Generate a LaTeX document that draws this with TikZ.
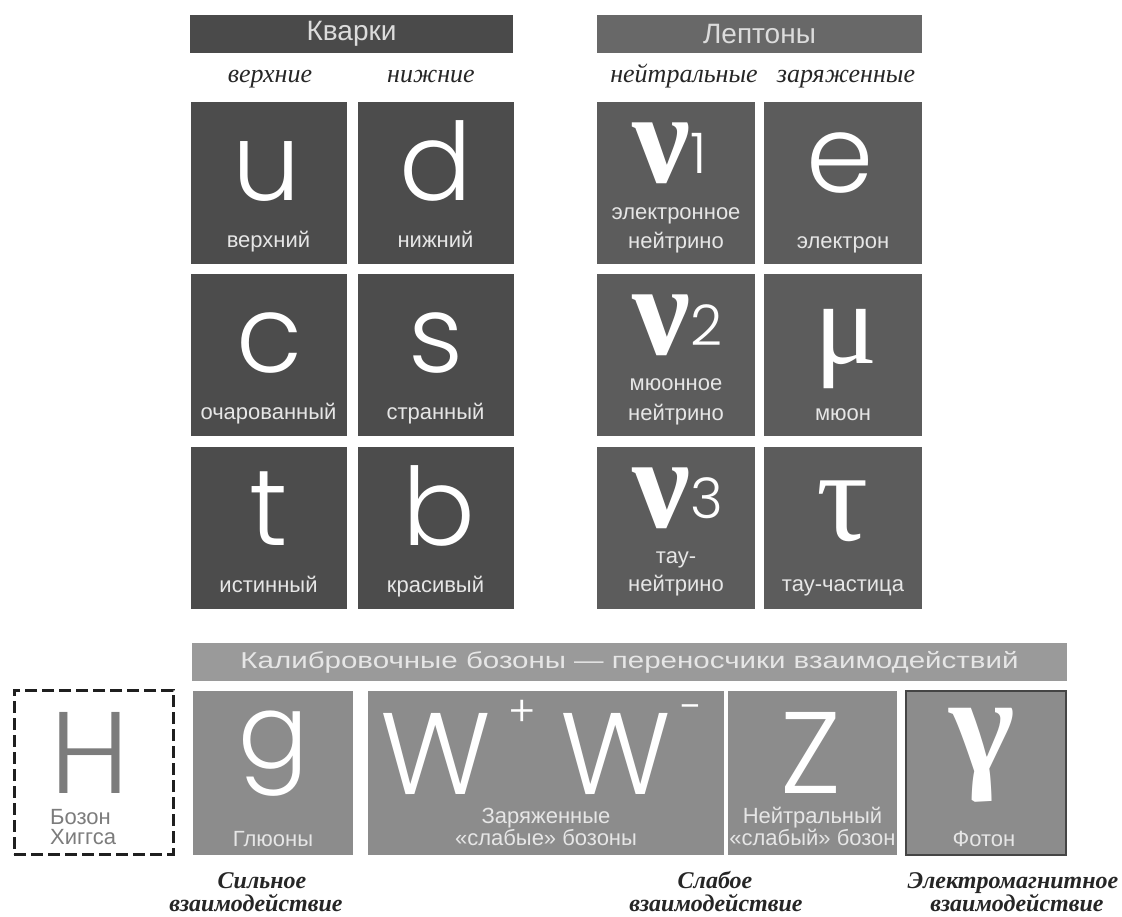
\documentclass[tikz,border=0pt]{standalone}
\usepackage{fontspec}
\setmainfont{Liberation Serif}
\setsansfont{Liberation Sans}
\newfontfamily\glyphfont{Poppins Light}
\newfontfamily\greekfont{Liberation Serif}
\usepackage{xcolor}
\usepackage{tikz}
\usetikzlibrary{positioning}

\definecolor{quarkgray}{HTML}{4C4C4C}
\definecolor{leptongray}{HTML}{5C5C5C}
\definecolor{quarkhead}{HTML}{4A4A4A}
\definecolor{leptonhead}{HTML}{686868}
\definecolor{gaugehead}{HTML}{9A9A9A}
\definecolor{gaugegray}{HTML}{8C8C8C}
\definecolor{photonedge}{HTML}{454545}
\definecolor{headtext}{HTML}{DCDCDC}
\definecolor{labeltext}{HTML}{E6E6E6}
\definecolor{higgsgray}{HTML}{7C7C7C}
\definecolor{forcetext}{HTML}{262626}

\begin{document}
\begin{tikzpicture}[x=1pt, y=-1pt,
  header/.style={rectangle, inner sep=0pt, minimum height=38pt, text=headtext, font=\sffamily\fontsize{28}{28}\selectfont},
  quark/.style={rectangle, inner sep=0pt, fill=quarkgray, minimum width=156pt, minimum height=162pt},
  lepton/.style={quark, fill=leptongray, minimum width=158pt},
  gauge/.style={rectangle, inner sep=0pt, fill=gaugegray, minimum height=164pt},
  letter/.style={anchor=base, inner sep=0pt, text height=82pt, text depth=0pt, text=white, font=\glyphfont\fontsize{116}{116}\selectfont},
  small letter/.style={letter, font=\glyphfont\fontsize{108}{108}\selectfont},
  greek/.style={anchor=base, inner sep=0pt, text height=60pt, text depth=0pt, text=white, font=\greekfont\fontsize{130}{130}\selectfont},
  digit/.style={anchor=base west, inner sep=0pt, text height=40pt, text depth=0pt, text=white, font=\glyphfont\fontsize{56}{56}\selectfont},
  partname/.style={anchor=base, inner sep=0pt, text height=16pt, text depth=3pt, text=labeltext, font=\sffamily\fontsize{22}{22}\selectfont},
  kind/.style={anchor=base, inner sep=0pt, text=forcetext, font=\itshape\fontsize{26}{26}\selectfont},
  force/.style={anchor=base, inner sep=0pt, text height=17pt, text depth=4pt, text=forcetext, font=\bfseries\itshape\fontsize{24}{24}\selectfont}
]
\path[fill=white] (0,0) rectangle (1122,916);

% quarks
\node[header, fill=quarkhead, minimum width=323pt] (qhead) at (351.5,34) {Кварки};
\node[kind] (upper) at (270,82) {верхние};
\node[kind] (lower) at (431,82) {нижние};

\node[quark] (up) at (268.5,182.5) {};
\node[quark] (down) at (435.5,182.5) {};
\node[quark] (charm) at (268.5,355) {};
\node[quark] (strange) at (435.5,355) {};
\node[quark] (top) at (268.5,528) {};
\node[quark] (bottom) at (435.5,528) {};

\node[small letter] (u) at (267,200) {u};
\node[small letter] (d) at (436,200) {d};
\node[small letter] (c) at (270,372) {c};
\node[small letter] (s) at (436,372) {s};
\node[small letter] (t) at (269,545) {t};
\node[small letter] (b) at (439,545) {b};

\node[partname] at (268.5,247) {верхний};
\node[partname] at (435.5,247) {нижний};
\node[partname] at (268.5,419) {очарованный};
\node[partname] at (435.5,419) {странный};
\node[partname] at (268.5,592) {истинный};
\node[partname] at (435.5,592) {красивый};

% leptons
\node[header, fill=leptonhead, minimum width=325pt] (lhead) at (759.5,34) {Лептоны};
\node[kind] (neutral) at (684,82) {нейтральные};
\node[kind] (charged) at (846,82) {заряженные};

\node[lepton] (nuebox) at (676,182.5) {};
\node[lepton] (ebox) at (843,182.5) {};
\node[lepton] (numubox) at (676,355) {};
\node[lepton] (mubox) at (843,355) {};
\node[lepton] (nutaubox) at (676,528) {};
\node[lepton] (taubox) at (843,528) {};

\node[greek, font=\greekfont\bfseries\fontsize{130}{130}\selectfont] (nue) at (662,182) {ν};
\node[digit] at (690,173) {1};
\node[greek, font=\greekfont\bfseries\fontsize{130}{130}\selectfont] (numu) at (662,354) {ν};
\node[digit] at (690,345) {2};
\node[greek, font=\greekfont\bfseries\fontsize{130}{130}\selectfont] (nutau) at (662,527) {ν};
\node[digit] at (690,518) {3};

\node[small letter, text height=60pt] (e) at (840,192) {e};
\node[greek, text height=54pt, text depth=27pt, font=\greekfont\fontsize{118}{118}\selectfont] (mu) at (846,363) {μ};
\node[greek] (tau) at (843,540) {τ};

\node[partname] at (676,219) {электронное};
\node[partname] at (676,248) {нейтрино};
\node[partname] at (843,248) {электрон};
\node[partname] at (676,390) {мюонное};
\node[partname] at (676,420) {нейтрино};
\node[partname] at (843,420) {мюон};
\node[partname] at (676,563) {тау-};
\node[partname] at (676,591) {нейтрино};
\node[partname] at (843,591) {тау-частица};

% bosons
\node[header, fill=gaugehead, minimum width=875pt, text=labeltext, font=\sffamily\fontsize{23}{23}\selectfont] (ghead) at (629.5,662)
  {\resizebox{778pt}{\height}{Калибровочные бозоны — переносчики взаимодействий}};

\node[rectangle, draw=black!88, line width=3pt, dash pattern=on 12pt off 5pt, minimum width=159pt, minimum height=164pt] (higgs) at (93.5,772) {};
\node[letter, text=higgsgray] (H) at (89.5,793) {H};
\node[partname, anchor=base west, text=higgsgray] at (50,824) {Бозон};
\node[partname, anchor=base west, text=higgsgray] at (50,844) {Хиггса};

\node[gauge, minimum width=160pt] (gluon) at (273,772.5) {};
\node[gauge, minimum width=356pt] (wbox) at (546,772.5) {};
\node[gauge, minimum width=169pt] (zbox) at (812.5,772.5) {};
\node[gauge, minimum width=160pt, draw=photonedge, line width=2pt] (photon) at (986,772.5) {};

\node[letter, text height=55pt, text depth=22pt, font=\glyphfont\fontsize{104}{104}\selectfont] (g) at (274,768) {g};
\node[letter] (wplus) at (436,794) {W};
\node[anchor=center, inner sep=0pt, text=white, font=\glyphfont\fontsize{42}{42}\selectfont] (plus) at (522,713) {+};
\node[letter] (wminus) at (616,794) {W};
\node[anchor=center, inner sep=0pt, text=white, font=\glyphfont\fontsize{42}{42}\selectfont] (minus) at (690,713) {−};
\node[letter] (z) at (811,793) {Z};
\node[anchor=center, inner sep=0pt, text=white, font=\greekfont\bfseries\fontsize{140}{140}\selectfont] (gamma) at (982,755.5) {γ};

\node[partname] at (273,846) {Глюоны};
\node[partname] at (546,823) {Заряженные};
\node[partname] at (546,845) {«слабые» бозоны};
\node[partname] at (812.5,823) {Нейтральный};
\node[partname] at (812.5,845) {«слабый» бозон};
\node[partname] at (984,846) {Фотон};

\node[force] at (262,888) {Сильное};
\node[force] at (256,911) {взаимодействие};
\node[force] at (715,888) {Слабое};
\node[force] at (716,911) {взаимодействие};
\node[force] at (1013,888) {Электромагнитное};
\node[force] at (1017,911) {взаимодействие};
\end{tikzpicture}
\end{document}
